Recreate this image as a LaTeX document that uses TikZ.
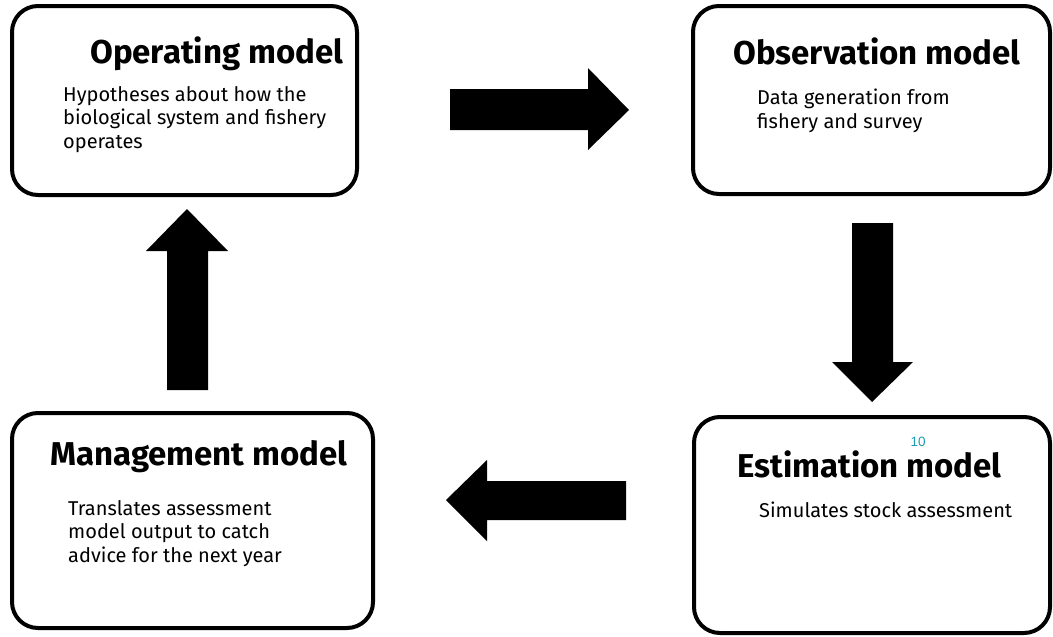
\documentclass[tikz,border=0pt]{standalone}
\usepackage{fontspec}
\setmainfont{Fira Sans}
\newfontfamily\numfont{Liberation Sans}
\definecolor{slideteal}{RGB}{30,155,180}
\begin{document}
\begin{tikzpicture}[x=1pt,y=-1pt,
  modelbox/.style={draw=black,line width=4pt,rounded corners=26pt},
  titletext/.style={anchor=base west,inner sep=0pt,font=\fontsize{33}{38}\selectfont\bfseries},
  bodytext/.style={anchor=base west,inner sep=0pt,align=left,font=\fontsize{20}{23.5}\selectfont},
  blockarrow/.style={fill=black}]
\useasboundingbox (0,0) rectangle (1053,637);
\fill[white] (0,0) rectangle (1053,637);

% model boxes
\draw[modelbox] (12,6) rectangle (357,195);
\draw[modelbox] (693,6) rectangle (1050,194);
\draw[modelbox] (694,417) rectangle (1050,633);
\draw[modelbox] (12,413) rectangle (373,628);

% operating model (body anchored at the baseline of its last line)
\node[titletext] (optitle) at (90,63) {Operating model};
\node[bodytext] (opbody) at (63,148) {Hypotheses about how the\\biological system and fishery\\operates};

% observation model
\node[titletext] (obstitle) at (733,64) {Observation model};
\node[bodytext] (obsbody) at (757,128) {Data generation from\\fishery and survey};

% estimation model
\node[anchor=base,inner sep=0pt,text=slideteal,font=\numfont\fontsize{13.5}{16}\selectfont] (pagenum) at (918,446) {10};
\node[titletext] (esttitle) at (737,477) {Estimation model};
\node[bodytext] (estbody) at (759,517) {Simulates stock assessment};

% management model
\node[titletext] (mgttitle) at (50,465) {Management model};
\node[bodytext] (mgtbody) at (68,562) {Translates assessment\\model output to catch\\advice for the next year};

% block arrows between the models
\fill[blockarrow] (450,89) -- (588,89) -- (588,68) -- (629,110) -- (588,150) -- (588,130) -- (450,130) -- cycle;
\fill[blockarrow] (852,223) -- (893,223) -- (893,362) -- (913,362) -- (872,402) -- (832,362) -- (852,362) -- cycle;
\fill[blockarrow] (626,481) -- (487,481) -- (487,460) -- (446,500) -- (487,541) -- (487,520) -- (626,520) -- cycle;
\fill[blockarrow] (167,390) -- (167,251) -- (146,251) -- (187,209) -- (228,251) -- (208,251) -- (208,390) -- cycle;
\end{tikzpicture}
\end{document}
